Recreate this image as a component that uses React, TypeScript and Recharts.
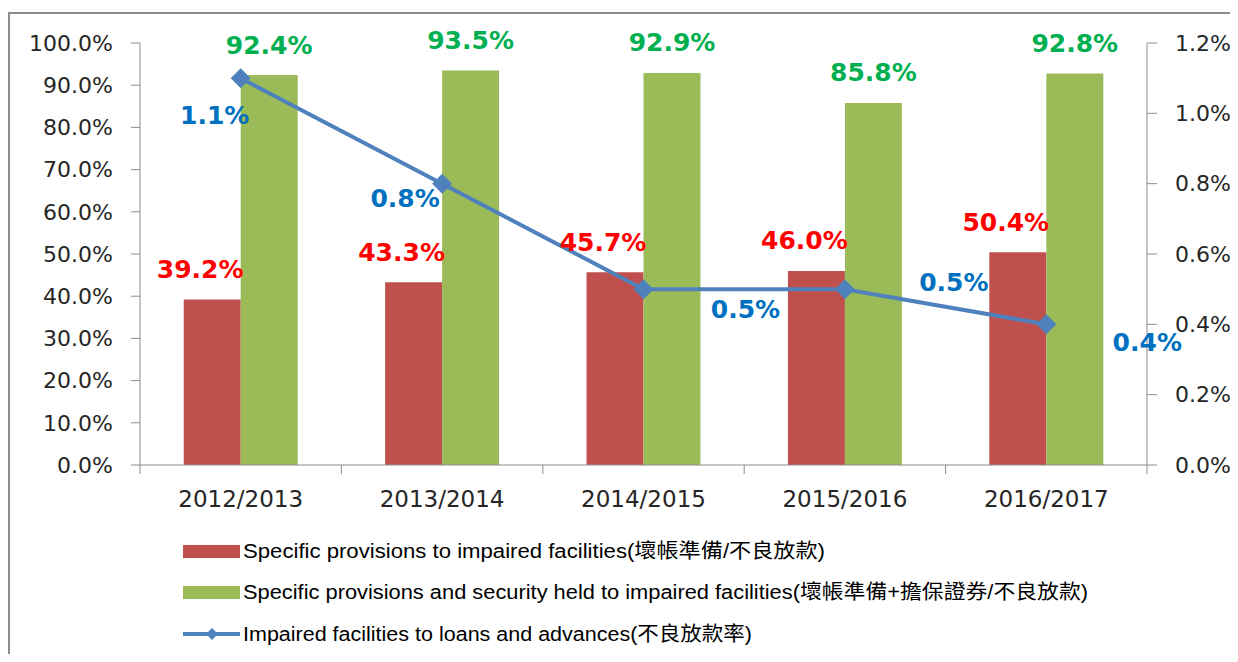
import React from 'react';
import { ComposedChart, Bar, Line, XAxis, YAxis, LabelList } from 'recharts';

const years = ['2012/2013', '2013/2014', '2014/2015', '2015/2016', '2016/2017'];
const provisionsRatio = [39.2, 43.3, 45.7, 46.0, 50.4];
const provisionsSecurityRatio = [92.4, 93.5, 92.9, 85.8, 92.8];
const impairedRatio = [1.1, 0.8, 0.5, 0.5, 0.4];
const leftTicks = [0, 10, 20, 30, 40, 50, 60, 70, 80, 90, 100];
const rightTicks = [0, 0.2, 0.4, 0.6, 0.8, 1.0, 1.2];

const legendNames = [
  'Specific provisions to impaired facilities(壞帳準備/不良放款)',
  'Specific provisions and security held to impaired facilities(壞帳準備+擔保證券/不良放款)',
  'Impaired facilities to loans and advances(不良放款率)',
];

const data = years.map((year, i) => ({
  year,
  provisions: provisionsRatio[i],
  security: provisionsSecurityRatio[i],
  impaired: impairedRatio[i],
}));

const RED = '#C0504D';
const GREEN = '#9BBB59';
const BLUE = '#4F81BD';
const NUM_FONT = '"DejaVu Sans", Verdana, sans-serif';
const LEGEND_FONT = '"Liberation Sans Narrow", "Liberation Sans", "Noto Sans CJK TC", sans-serif';

// where Excel put the blue labels, relative to each point
const blueOffsets = [[-26, 37], [-37, 15], [102, 20], [109, -7], [101, 18]];

const BAND = (1147 - 140) / years.length;

const XTick = (props: any) => {
  const { x, y, payload, index } = props;
  return (
    <g>
      <line x1={x - BAND / 2} x2={x - BAND / 2} y1={465} y2={474} stroke="#8c8c8c" />
      {index === years.length - 1 && (
        <line x1={x + BAND / 2} x2={x + BAND / 2} y1={465} y2={474} stroke="#8c8c8c" />
      )}
      <text x={x} y={y + 34} textAnchor="middle" fontSize={23} fill="#262626" fontFamily={NUM_FONT}>
        {payload.value}
      </text>
    </g>
  );
};

const barLabel = (color: string, dx: number) => (props: any) => {
  const { x, y, width, value } = props;
  return (
    <text
      x={x + width / 2 + dx}
      y={y - 30}
      dominantBaseline="central"
      textAnchor="middle"
      fill={color}
      fontSize={25}
      fontWeight="bold"
      fontFamily={NUM_FONT}
    >
      {Number(value).toFixed(1)}%
    </text>
  );
};

const lineLabel = (props: any) => {
  const { x, y, value, index } = props;
  const [dx, dy] = blueOffsets[index];
  return (
    <text
      x={x + dx}
      y={y + dy}
      dominantBaseline="central"
      textAnchor="middle"
      fill="#0070C0"
      fontSize={25}
      fontWeight="bold"
      fontFamily={NUM_FONT}
    >
      {Number(value).toFixed(1)}%
    </text>
  );
};

const Diamond = (props: any) => {
  const { cx, cy } = props;
  if (cx == null || cy == null) return null;
  const r = 10;
  return <polygon points={`${cx},${cy - r} ${cx + r},${cy} ${cx},${cy + r} ${cx - r},${cy}`} fill={BLUE} />;
};

export default function App() {
  return (
    <div style={{ position: 'relative', width: 1238, height: 662, margin: -8, overflow: 'hidden', background: '#fff' }}>
      <div
        style={{
          position: 'absolute',
          left: 8,
          top: 12,
          width: 1300,
          height: 700,
          border: '2px solid #8c8c8c',
        }}
      />
      <ComposedChart
        width={1238}
        height={662}
        data={data}
        margin={{ top: 43, right: 0, bottom: 137, left: 0 }}
        barCategoryGap="21.7%"
        barGap={0}
        style={{ position: 'absolute', left: 0, top: 0 }}
      >
        <XAxis
          dataKey="year"
          height={60}
          stroke="#8c8c8c"
          tickLine={false}
          tick={<XTick />}
          interval={0}
        />
        <YAxis
          yAxisId="left"
          width={140}
          domain={[0, 100]}
          ticks={leftTicks}
          interval={0}
          tickSize={9}
          tickMargin={18}
          stroke="#8c8c8c"
          tick={{ fill: '#262626', fontSize: 22, fontFamily: NUM_FONT }}
          tickFormatter={(v: number) => `${v.toFixed(1)}%`}
        />
        <YAxis
          yAxisId="right"
          orientation="right"
          width={91}
          domain={[0, 1.2]}
          ticks={rightTicks}
          interval={0}
          tickSize={10}
          tickMargin={18}
          stroke="#8c8c8c"
          tick={{ fill: '#262626', fontSize: 22, fontFamily: NUM_FONT, textAnchor: 'start' }}
          tickFormatter={(v: number) => `${v.toFixed(1)}%`}
        />
        <Bar yAxisId="left" dataKey="provisions" fill={RED} isAnimationActive={false}>
          <LabelList dataKey="provisions" content={barLabel('#FF0000', -12)} />
        </Bar>
        <Bar yAxisId="left" dataKey="security" fill={GREEN} isAnimationActive={false}>
          <LabelList dataKey="security" content={barLabel('#00B050', 0)} />
        </Bar>
        <Line
          yAxisId="right"
          dataKey="impaired"
          stroke={BLUE}
          strokeWidth={4}
          dot={<Diamond />}
          activeDot={false}
          isAnimationActive={false}
        >
          <LabelList dataKey="impaired" content={lineLabel} />
        </Line>
      </ComposedChart>
      <svg width={1238} height={662} style={{ position: 'absolute', left: 0, top: 0, pointerEvents: 'none' }}>
        <rect x={183} y={545} width={57} height={13} fill={RED} />
        <rect x={183} y={586} width={57} height={13} fill={GREEN} />
        <line x1={183} x2={240} y1={634} y2={634} stroke={BLUE} strokeWidth={4} />
        <polygon points="212,628 218,634 212,640 206,634" fill={BLUE} />
        {legendNames.map((name, i) => (
          <text
            key={name}
            x={243}
            y={[551, 592, 634][i]}
            dominantBaseline="central"
            fontSize={20}
            fill="#000"
            fontFamily={LEGEND_FONT}
            textLength={[582, 845, 509][i]}
            lengthAdjust="spacingAndGlyphs"
          >
            {name}
          </text>
        ))}
      </svg>
    </div>
  );
}
